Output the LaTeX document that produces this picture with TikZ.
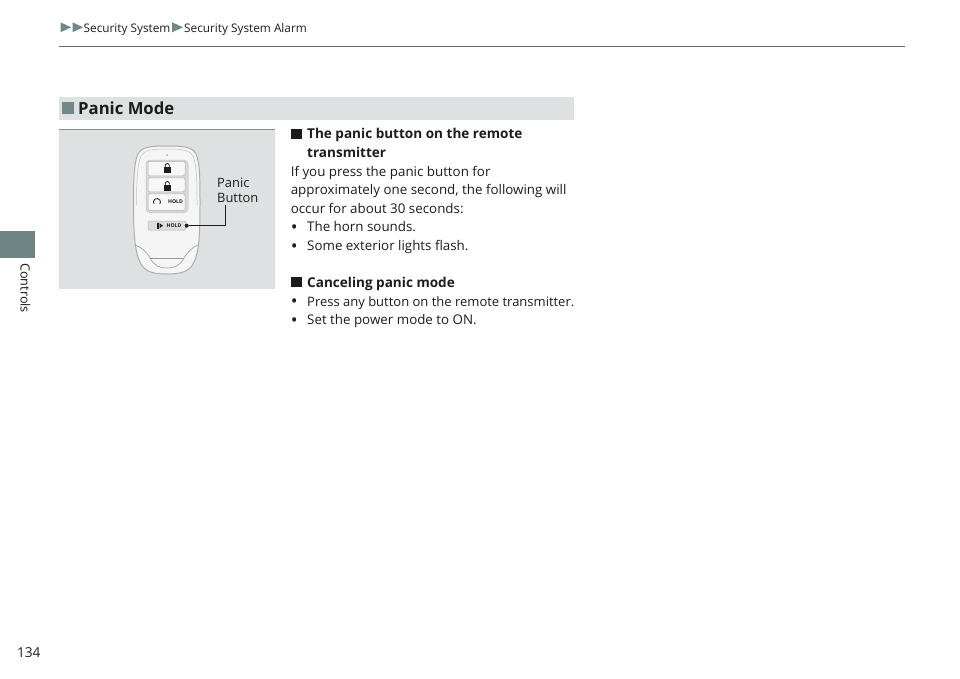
\documentclass[tikz,border=0pt]{standalone}
\usepackage{fontspec}
\setmainfont{Open Sans}
\usetikzlibrary{positioning}
\definecolor{bandgrey}{HTML}{DDE1E1}
\definecolor{markgrey}{HTML}{72878A}
\definecolor{tabgrey}{HTML}{6F8583}
\definecolor{inkgrey}{HTML}{1C1C1C}
\newcommand{\bulmark}{\raisebox{-1.8pt}{\fontsize{18}{18}\selectfont •}}
\tikzset{
    bodytxt/.style={anchor=base west, inner sep=0pt, text=inkgrey, font=\fontsize{13.35}{16}\selectfont},
    boldtxt/.style={bodytxt, font=\fontsize{13.55}{16}\selectfont\bfseries},
    nextline/.style={below=18.6pt of #1.base west, anchor=base west},
    bultxt/.style={bodytxt, right=16.4pt of #1.base west, anchor=base west},
    pagetxt/.style={anchor=base west, inner sep=0pt, text=inkgrey},
    trimark/.style={fill=markgrey, draw=none},
    squaremark/.style={fill=inkgrey, draw=none},
    keybtn/.style={fill=#1, draw=black!30, line width=0.5pt, rounded corners=1.5pt},
    holdtxt/.style={inner sep=0pt, text=inkgrey, font=\fontsize{5.2}{6}\selectfont\bfseries}
}
\begin{document}
\begin{tikzpicture}[x=1pt, y=-1pt]
    \fill[white] (0,0) rectangle (960,678);
    \useasboundingbox (0,0) rectangle (960,678);

    \fill[trimark] (60.5,22.3) -- (71,27.3) -- (60.5,32.3) -- cycle;
    \fill[trimark] (72.5,22.3) -- (83,27.3) -- (72.5,32.3) -- cycle;
    \node[pagetxt, font=\fontsize{11.8}{14}\selectfont] (crumbone) at (83.5,32) {Security System};
    \fill[trimark] (172,22.3) -- (183,27.3) -- (172,32.3) -- cycle;
    \node[pagetxt, font=\fontsize{11.8}{14}\selectfont] (crumbtwo) at (184,32) {Security System Alarm};
    \draw[black!60, line width=0.8pt] (59,46.2) -- (905,46.2);

    \fill[tabgrey] (0,231) rectangle (34.5,258);
    \draw[black!60, line width=0.6pt] (59,129) -- (59,289);
    \node[pagetxt, rotate=-90, font=\fontsize{12.7}{14}\selectfont] (sidetxt) at (20.5,263) {Controls};
    \node[pagetxt, font=\fontsize{13.7}{16}\selectfont] (pagenum) at (16.8,657) {134};

    \fill[bandgrey] (59,97) rectangle (574,119.5);
    \fill[markgrey] (61.5,102) rectangle (74,114);
    \node[pagetxt, font=\fontsize{16.7}{20}\selectfont\bfseries] (bandtxt) at (78,114) {Panic Mode};

    \fill[bandgrey] (59,129) rectangle (274.5,289);
    \draw[black!45, line width=0.6pt] (59,129) -- (274.5,129);

    \filldraw[fill=black!4, draw=black!32, line width=1pt] (167,146)
        .. controls (185,146) and (192,147) .. (196,154)
        .. controls (200,162) and (200,180) .. (200,205)
        .. controls (200,235) and (199,252) .. (194,262)
        .. controls (190,272) and (180,274) .. (167,274)
        .. controls (154,274) and (144,272) .. (140,262)
        .. controls (135,252) and (133.5,235) .. (133.5,205)
        .. controls (133.5,180) and (134,162) .. (138,154)
        .. controls (142,147) and (149,146) .. (167,146) -- cycle;
    \draw[black!25, line width=0.5pt] (167,149)
        .. controls (182,149) and (190,150) .. (193,156)
        .. controls (197,165) and (197,185) .. (197,205);
    \draw[black!25, line width=0.5pt] (167,149)
        .. controls (152,149) and (144,150) .. (141,156)
        .. controls (137,165) and (136.5,185) .. (136.5,205);
    \draw[black!40, line width=0.6pt] (135,245)
        .. controls (141,247) and (146,251) .. (150,258)
        .. controls (154,266) and (160,268) .. (167,268)
        .. controls (174,268) and (180,266) .. (184,258)
        .. controls (188,251) and (193,247) .. (198,245);
    \draw[black!40, line width=0.6pt] (150,258) -- (184,258);
    \fill[black!40] (167,155) circle (0.8);

    \filldraw[fill=black!15, draw=black!25, line width=0.5pt, rounded corners=4pt] (146,160) rectangle (188,212.6);
    \node[keybtn=black!3, minimum width=37pt, minimum height=14.5pt, inner sep=0pt] (lockbtn) at (166.5,168.5) {};
    \node[keybtn=black!3, minimum width=37pt, minimum height=14pt, inner sep=0pt, below=1.5pt of lockbtn] (unlockbtn) {};
    \node[keybtn=black!3, minimum width=37pt, minimum height=16.5pt, inner sep=0pt, below=1.5pt of unlockbtn] (hornbtn) {};

    \fill[inkgrey] (164,167) rectangle (170.5,172.5);
    \draw[inkgrey, line width=0.8pt] (165.3,167) -- (165.3,165.5) arc (180:360:2) -- (169.3,167);
    \fill[inkgrey] (164,185) rectangle (170.5,190.5);
    \draw[inkgrey, line width=0.8pt] (165.3,185) -- (165.3,183.5) arc (180:360:2) -- (169.3,184.5);

    \draw[inkgrey, line width=0.8pt] (154.1,204) arc (145:395:3.5);
    \node[holdtxt] (hornhold) at (175.5,201.7) {HOLD};

    \node[keybtn=black!13, minimum width=38pt, minimum height=9pt, inner sep=0pt] (panicbtn) at (167,225.5) {};
    \fill[inkgrey] (159.5,223.2) -- (163,225.7) -- (159.5,228.2) -- cycle;
    \draw[inkgrey, line width=0.5pt] (158.7,222.7) -- (158.7,228.7) (157.6,222.7) -- (157.6,228.7);
    \node[holdtxt] (panichold) at (174,225.7) {HOLD};

    \node[pagetxt, font=\fontsize{12.9}{14}\selectfont] (labelone) at (217,187.5) {Panic};
    \node[pagetxt, font=\fontsize{12.9}{14}\selectfont, below=14.5pt of labelone.base west, anchor=base west] (labeltwo) {Button};
    \coordinate (knee) at (225.8,225.7);
    \coordinate (labelfoot) at (225.8,205);
    \node[circle, fill=inkgrey, inner sep=0pt, minimum size=4pt] (panicdot) at (186.7,225.7) {};
    \draw[inkgrey, line width=0.7pt] (panicdot) -- (knee) -- (labelfoot);

    \fill[squaremark] (291,129) rectangle (302,139);
    \node[boldtxt] (tl1) at (307,138.4) {The panic button on the remote};
    \node[boldtxt, nextline=tl1] (tl2) {transmitter};
    \node[bodytxt, below=19pt of tl2.base west, anchor=base west, xshift=-16.4pt] (tl3) {If you press the panic button for};
    \node[bodytxt, nextline=tl3] (tl4) {approximately one second, the following will};
    \node[bodytxt, nextline=tl4] (tl5) {occur for about 30 seconds:};
    \node[bodytxt, nextline=tl5] (bul1) {\bulmark};
    \node[bultxt=bul1] (tl6) {The horn sounds.};
    \node[bodytxt, nextline=bul1] (bul2) {\bulmark};
    \node[bultxt=bul2] (tl7) {Some exterior lights flash.};

    \fill[squaremark] (291,277) rectangle (302,287);
    \node[boldtxt] (tl8) at (307,287.4) {Canceling panic mode};
    \node[bodytxt] (bul3) at (290.6,306) {\bulmark};
    \node[bultxt=bul3, font=\fontsize{13}{16}\selectfont] (tl9) {Press any button on the remote transmitter.};
    \node[bodytxt, nextline=bul3] (bul4) {\bulmark};
    \node[bultxt=bul4] (tl10) {Set the power mode to ON.};
\end{tikzpicture}
\end{document}
